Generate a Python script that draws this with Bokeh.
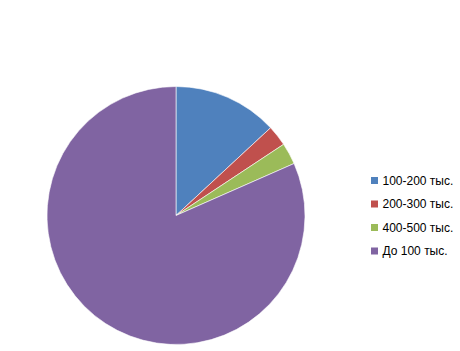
import math
from bokeh.plotting import figure
from bokeh.models import ColumnDataSource, Range1d
from bokeh.core.properties import value
from bokeh.embed import file_html
from bokeh.resources import INLINE

categories = ["100-200 тыс.", "200-300 тыс.", "400-500 тыс.", "До 100 тыс."]
shares = [13.1, 2.6, 2.7, 81.6]
colors = ["#4F81BD", "#C0504D", "#9BBB59", "#8064A2"]

W, H = 460, 351
p = figure(width=W, height=H, output_backend="svg", toolbar_location=None,
           x_range=Range1d(0, W), y_range=Range1d(0, H), min_border=0)
p.axis.visible = False
p.grid.visible = False
p.outline_line_color = None
p.background_fill_color = "white"
p.border_fill_color = "white"

total = sum(shares)
starts, ends = [], []
acc = 0.0
for s in shares:
    a0 = math.pi / 2 - 2 * math.pi * acc / total
    acc += s
    a1 = math.pi / 2 - 2 * math.pi * acc / total
    starts.append(a1)
    ends.append(a0)

src = ColumnDataSource(dict(cat=categories, start=starts, end=ends, color=colors))
cx, cy, r = 175.5, H - 215, 129
p.wedge(x=cx, y=cy, radius=r, radius_units="screen", start_angle="start", end_angle="end",
        fill_color="color", line_color="white", line_width=0.6, source=src)

# legend
ly0 = H - 180
step = 23.5
lsrc = ColumnDataSource(dict(
    x=[374] * 4, y=[ly0 - i * step for i in range(4)], tx=[382] * 4,
    cat=categories, color=colors))
p.rect(x="x", y="y", width=7, height=7, width_units="screen", height_units="screen",
       fill_color="color", line_color=None, source=lsrc)
p.text(x="tx", y="y", text="cat", text_baseline="middle", text_align="left",
       text_font=value("Liberation Sans"), text_font_size="12px", text_color="#000000",
       source=lsrc)

open("out.html", "w").write(file_html(p, INLINE))
